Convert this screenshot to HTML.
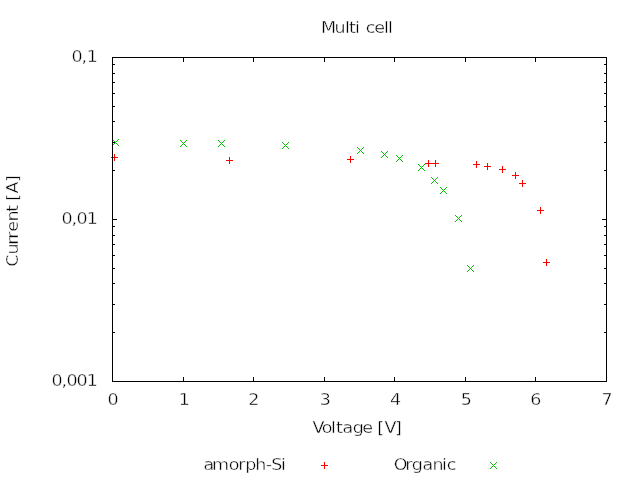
<!DOCTYPE html>
<html><head><meta charset="utf-8"><title>Multi cell</title>
<style>
html,body{margin:0;padding:0;background:#fff;}
svg{display:block;}
text{font-family:"DejaVu Sans","Liberation Sans",sans-serif;font-size:16.5px;fill:#000;stroke:#fff;stroke-width:0.4px;font-kerning:none;white-space:pre;}
</style></head><body>
<svg width="640" height="480" viewBox="0 0 640 480">
<rect width="640" height="480" fill="#fff"/>
<g shape-rendering="crispEdges">
<rect x="111" y="157" width="7" height="1" fill="#ff0000"/><rect x="114" y="154" width="1" height="7" fill="#ff0000"/>
<rect x="226" y="160" width="7" height="1" fill="#ff0000"/><rect x="229" y="157" width="1" height="7" fill="#ff0000"/>
<rect x="347" y="159" width="7" height="1" fill="#ff0000"/><rect x="350" y="156" width="1" height="7" fill="#ff0000"/>
<rect x="425" y="163" width="7" height="1" fill="#ff0000"/><rect x="428" y="160" width="1" height="7" fill="#ff0000"/>
<rect x="432" y="163" width="7" height="1" fill="#ff0000"/><rect x="435" y="160" width="1" height="7" fill="#ff0000"/>
<rect x="473" y="164" width="7" height="1" fill="#ff0000"/><rect x="476" y="161" width="1" height="7" fill="#ff0000"/>
<rect x="484" y="166" width="7" height="1" fill="#ff0000"/><rect x="487" y="163" width="1" height="7" fill="#ff0000"/>
<rect x="499" y="169" width="7" height="1" fill="#ff0000"/><rect x="502" y="166" width="1" height="7" fill="#ff0000"/>
<rect x="512" y="175" width="7" height="1" fill="#ff0000"/><rect x="515" y="172" width="1" height="7" fill="#ff0000"/>
<rect x="519" y="183" width="7" height="1" fill="#ff0000"/><rect x="522" y="180" width="1" height="7" fill="#ff0000"/>
<rect x="537" y="210" width="7" height="1" fill="#ff0000"/><rect x="540" y="207" width="1" height="7" fill="#ff0000"/>
<rect x="543" y="262" width="7" height="1" fill="#ff0000"/><rect x="546" y="259" width="1" height="7" fill="#ff0000"/>
<rect x="321" y="465" width="7" height="1" fill="#ff0000"/><rect x="324" y="462" width="1" height="7" fill="#ff0000"/>
<rect x="112" y="139" width="1" height="1" fill="#00c000"/>
<rect x="112" y="145" width="1" height="1" fill="#00c000"/>
<rect x="113" y="140" width="1" height="1" fill="#00c000"/>
<rect x="113" y="144" width="1" height="1" fill="#00c000"/>
<rect x="114" y="141" width="1" height="1" fill="#00c000"/>
<rect x="114" y="143" width="1" height="1" fill="#00c000"/>
<rect x="115" y="142" width="1" height="1" fill="#00c000"/>
<rect x="116" y="143" width="1" height="1" fill="#00c000"/>
<rect x="116" y="141" width="1" height="1" fill="#00c000"/>
<rect x="117" y="144" width="1" height="1" fill="#00c000"/>
<rect x="117" y="140" width="1" height="1" fill="#00c000"/>
<rect x="118" y="145" width="1" height="1" fill="#00c000"/>
<rect x="118" y="139" width="1" height="1" fill="#00c000"/>
<rect x="180" y="140" width="1" height="1" fill="#00c000"/>
<rect x="180" y="146" width="1" height="1" fill="#00c000"/>
<rect x="181" y="141" width="1" height="1" fill="#00c000"/>
<rect x="181" y="145" width="1" height="1" fill="#00c000"/>
<rect x="182" y="142" width="1" height="1" fill="#00c000"/>
<rect x="182" y="144" width="1" height="1" fill="#00c000"/>
<rect x="183" y="143" width="1" height="1" fill="#00c000"/>
<rect x="184" y="144" width="1" height="1" fill="#00c000"/>
<rect x="184" y="142" width="1" height="1" fill="#00c000"/>
<rect x="185" y="145" width="1" height="1" fill="#00c000"/>
<rect x="185" y="141" width="1" height="1" fill="#00c000"/>
<rect x="186" y="146" width="1" height="1" fill="#00c000"/>
<rect x="186" y="140" width="1" height="1" fill="#00c000"/>
<rect x="218" y="140" width="1" height="1" fill="#00c000"/>
<rect x="218" y="146" width="1" height="1" fill="#00c000"/>
<rect x="219" y="141" width="1" height="1" fill="#00c000"/>
<rect x="219" y="145" width="1" height="1" fill="#00c000"/>
<rect x="220" y="142" width="1" height="1" fill="#00c000"/>
<rect x="220" y="144" width="1" height="1" fill="#00c000"/>
<rect x="221" y="143" width="1" height="1" fill="#00c000"/>
<rect x="222" y="144" width="1" height="1" fill="#00c000"/>
<rect x="222" y="142" width="1" height="1" fill="#00c000"/>
<rect x="223" y="145" width="1" height="1" fill="#00c000"/>
<rect x="223" y="141" width="1" height="1" fill="#00c000"/>
<rect x="224" y="146" width="1" height="1" fill="#00c000"/>
<rect x="224" y="140" width="1" height="1" fill="#00c000"/>
<rect x="282" y="142" width="1" height="1" fill="#00c000"/>
<rect x="282" y="148" width="1" height="1" fill="#00c000"/>
<rect x="283" y="143" width="1" height="1" fill="#00c000"/>
<rect x="283" y="147" width="1" height="1" fill="#00c000"/>
<rect x="284" y="144" width="1" height="1" fill="#00c000"/>
<rect x="284" y="146" width="1" height="1" fill="#00c000"/>
<rect x="285" y="145" width="1" height="1" fill="#00c000"/>
<rect x="286" y="146" width="1" height="1" fill="#00c000"/>
<rect x="286" y="144" width="1" height="1" fill="#00c000"/>
<rect x="287" y="147" width="1" height="1" fill="#00c000"/>
<rect x="287" y="143" width="1" height="1" fill="#00c000"/>
<rect x="288" y="148" width="1" height="1" fill="#00c000"/>
<rect x="288" y="142" width="1" height="1" fill="#00c000"/>
<rect x="357" y="147" width="1" height="1" fill="#00c000"/>
<rect x="357" y="153" width="1" height="1" fill="#00c000"/>
<rect x="358" y="148" width="1" height="1" fill="#00c000"/>
<rect x="358" y="152" width="1" height="1" fill="#00c000"/>
<rect x="359" y="149" width="1" height="1" fill="#00c000"/>
<rect x="359" y="151" width="1" height="1" fill="#00c000"/>
<rect x="360" y="150" width="1" height="1" fill="#00c000"/>
<rect x="361" y="151" width="1" height="1" fill="#00c000"/>
<rect x="361" y="149" width="1" height="1" fill="#00c000"/>
<rect x="362" y="152" width="1" height="1" fill="#00c000"/>
<rect x="362" y="148" width="1" height="1" fill="#00c000"/>
<rect x="363" y="153" width="1" height="1" fill="#00c000"/>
<rect x="363" y="147" width="1" height="1" fill="#00c000"/>
<rect x="381" y="151" width="1" height="1" fill="#00c000"/>
<rect x="381" y="157" width="1" height="1" fill="#00c000"/>
<rect x="382" y="152" width="1" height="1" fill="#00c000"/>
<rect x="382" y="156" width="1" height="1" fill="#00c000"/>
<rect x="383" y="153" width="1" height="1" fill="#00c000"/>
<rect x="383" y="155" width="1" height="1" fill="#00c000"/>
<rect x="384" y="154" width="1" height="1" fill="#00c000"/>
<rect x="385" y="155" width="1" height="1" fill="#00c000"/>
<rect x="385" y="153" width="1" height="1" fill="#00c000"/>
<rect x="386" y="156" width="1" height="1" fill="#00c000"/>
<rect x="386" y="152" width="1" height="1" fill="#00c000"/>
<rect x="387" y="157" width="1" height="1" fill="#00c000"/>
<rect x="387" y="151" width="1" height="1" fill="#00c000"/>
<rect x="396" y="155" width="1" height="1" fill="#00c000"/>
<rect x="396" y="161" width="1" height="1" fill="#00c000"/>
<rect x="397" y="156" width="1" height="1" fill="#00c000"/>
<rect x="397" y="160" width="1" height="1" fill="#00c000"/>
<rect x="398" y="157" width="1" height="1" fill="#00c000"/>
<rect x="398" y="159" width="1" height="1" fill="#00c000"/>
<rect x="399" y="158" width="1" height="1" fill="#00c000"/>
<rect x="400" y="159" width="1" height="1" fill="#00c000"/>
<rect x="400" y="157" width="1" height="1" fill="#00c000"/>
<rect x="401" y="160" width="1" height="1" fill="#00c000"/>
<rect x="401" y="156" width="1" height="1" fill="#00c000"/>
<rect x="402" y="161" width="1" height="1" fill="#00c000"/>
<rect x="402" y="155" width="1" height="1" fill="#00c000"/>
<rect x="418" y="164" width="1" height="1" fill="#00c000"/>
<rect x="418" y="170" width="1" height="1" fill="#00c000"/>
<rect x="419" y="165" width="1" height="1" fill="#00c000"/>
<rect x="419" y="169" width="1" height="1" fill="#00c000"/>
<rect x="420" y="166" width="1" height="1" fill="#00c000"/>
<rect x="420" y="168" width="1" height="1" fill="#00c000"/>
<rect x="421" y="167" width="1" height="1" fill="#00c000"/>
<rect x="422" y="168" width="1" height="1" fill="#00c000"/>
<rect x="422" y="166" width="1" height="1" fill="#00c000"/>
<rect x="423" y="169" width="1" height="1" fill="#00c000"/>
<rect x="423" y="165" width="1" height="1" fill="#00c000"/>
<rect x="424" y="170" width="1" height="1" fill="#00c000"/>
<rect x="424" y="164" width="1" height="1" fill="#00c000"/>
<rect x="431" y="177" width="1" height="1" fill="#00c000"/>
<rect x="431" y="183" width="1" height="1" fill="#00c000"/>
<rect x="432" y="178" width="1" height="1" fill="#00c000"/>
<rect x="432" y="182" width="1" height="1" fill="#00c000"/>
<rect x="433" y="179" width="1" height="1" fill="#00c000"/>
<rect x="433" y="181" width="1" height="1" fill="#00c000"/>
<rect x="434" y="180" width="1" height="1" fill="#00c000"/>
<rect x="435" y="181" width="1" height="1" fill="#00c000"/>
<rect x="435" y="179" width="1" height="1" fill="#00c000"/>
<rect x="436" y="182" width="1" height="1" fill="#00c000"/>
<rect x="436" y="178" width="1" height="1" fill="#00c000"/>
<rect x="437" y="183" width="1" height="1" fill="#00c000"/>
<rect x="437" y="177" width="1" height="1" fill="#00c000"/>
<rect x="440" y="187" width="1" height="1" fill="#00c000"/>
<rect x="440" y="193" width="1" height="1" fill="#00c000"/>
<rect x="441" y="188" width="1" height="1" fill="#00c000"/>
<rect x="441" y="192" width="1" height="1" fill="#00c000"/>
<rect x="442" y="189" width="1" height="1" fill="#00c000"/>
<rect x="442" y="191" width="1" height="1" fill="#00c000"/>
<rect x="443" y="190" width="1" height="1" fill="#00c000"/>
<rect x="444" y="191" width="1" height="1" fill="#00c000"/>
<rect x="444" y="189" width="1" height="1" fill="#00c000"/>
<rect x="445" y="192" width="1" height="1" fill="#00c000"/>
<rect x="445" y="188" width="1" height="1" fill="#00c000"/>
<rect x="446" y="193" width="1" height="1" fill="#00c000"/>
<rect x="446" y="187" width="1" height="1" fill="#00c000"/>
<rect x="455" y="215" width="1" height="1" fill="#00c000"/>
<rect x="455" y="221" width="1" height="1" fill="#00c000"/>
<rect x="456" y="216" width="1" height="1" fill="#00c000"/>
<rect x="456" y="220" width="1" height="1" fill="#00c000"/>
<rect x="457" y="217" width="1" height="1" fill="#00c000"/>
<rect x="457" y="219" width="1" height="1" fill="#00c000"/>
<rect x="458" y="218" width="1" height="1" fill="#00c000"/>
<rect x="459" y="219" width="1" height="1" fill="#00c000"/>
<rect x="459" y="217" width="1" height="1" fill="#00c000"/>
<rect x="460" y="220" width="1" height="1" fill="#00c000"/>
<rect x="460" y="216" width="1" height="1" fill="#00c000"/>
<rect x="461" y="221" width="1" height="1" fill="#00c000"/>
<rect x="461" y="215" width="1" height="1" fill="#00c000"/>
<rect x="467" y="265" width="1" height="1" fill="#00c000"/>
<rect x="467" y="271" width="1" height="1" fill="#00c000"/>
<rect x="468" y="266" width="1" height="1" fill="#00c000"/>
<rect x="468" y="270" width="1" height="1" fill="#00c000"/>
<rect x="469" y="267" width="1" height="1" fill="#00c000"/>
<rect x="469" y="269" width="1" height="1" fill="#00c000"/>
<rect x="470" y="268" width="1" height="1" fill="#00c000"/>
<rect x="471" y="269" width="1" height="1" fill="#00c000"/>
<rect x="471" y="267" width="1" height="1" fill="#00c000"/>
<rect x="472" y="270" width="1" height="1" fill="#00c000"/>
<rect x="472" y="266" width="1" height="1" fill="#00c000"/>
<rect x="473" y="271" width="1" height="1" fill="#00c000"/>
<rect x="473" y="265" width="1" height="1" fill="#00c000"/>
<rect x="490" y="462" width="1" height="1" fill="#00c000"/>
<rect x="490" y="468" width="1" height="1" fill="#00c000"/>
<rect x="491" y="463" width="1" height="1" fill="#00c000"/>
<rect x="491" y="467" width="1" height="1" fill="#00c000"/>
<rect x="492" y="464" width="1" height="1" fill="#00c000"/>
<rect x="492" y="466" width="1" height="1" fill="#00c000"/>
<rect x="493" y="465" width="1" height="1" fill="#00c000"/>
<rect x="494" y="466" width="1" height="1" fill="#00c000"/>
<rect x="494" y="464" width="1" height="1" fill="#00c000"/>
<rect x="495" y="467" width="1" height="1" fill="#00c000"/>
<rect x="495" y="463" width="1" height="1" fill="#00c000"/>
<rect x="496" y="468" width="1" height="1" fill="#00c000"/>
<rect x="496" y="462" width="1" height="1" fill="#00c000"/>
<rect x="112" y="57" width="495" height="1" fill="#000"/>
<rect x="112" y="381" width="495" height="1" fill="#000"/>
<rect x="112" y="57" width="1" height="325" fill="#000"/>
<rect x="606" y="57" width="1" height="325" fill="#000"/>
<rect x="112" y="377" width="1" height="4" fill="#000"/>
<rect x="112" y="58" width="1" height="4" fill="#000"/>
<rect x="183" y="377" width="1" height="4" fill="#000"/>
<rect x="183" y="58" width="1" height="4" fill="#000"/>
<rect x="253" y="377" width="1" height="4" fill="#000"/>
<rect x="253" y="58" width="1" height="4" fill="#000"/>
<rect x="324" y="377" width="1" height="4" fill="#000"/>
<rect x="324" y="58" width="1" height="4" fill="#000"/>
<rect x="394" y="377" width="1" height="4" fill="#000"/>
<rect x="394" y="58" width="1" height="4" fill="#000"/>
<rect x="465" y="377" width="1" height="4" fill="#000"/>
<rect x="465" y="58" width="1" height="4" fill="#000"/>
<rect x="535" y="377" width="1" height="4" fill="#000"/>
<rect x="535" y="58" width="1" height="4" fill="#000"/>
<rect x="606" y="377" width="1" height="4" fill="#000"/>
<rect x="606" y="58" width="1" height="4" fill="#000"/>
<rect x="113" y="381" width="4" height="1" fill="#000"/>
<rect x="602" y="381" width="4" height="1" fill="#000"/>
<rect x="113" y="332" width="2" height="1" fill="#000"/>
<rect x="604" y="332" width="2" height="1" fill="#000"/>
<rect x="113" y="304" width="2" height="1" fill="#000"/>
<rect x="604" y="304" width="2" height="1" fill="#000"/>
<rect x="113" y="283" width="2" height="1" fill="#000"/>
<rect x="604" y="283" width="2" height="1" fill="#000"/>
<rect x="113" y="268" width="2" height="1" fill="#000"/>
<rect x="604" y="268" width="2" height="1" fill="#000"/>
<rect x="113" y="255" width="2" height="1" fill="#000"/>
<rect x="604" y="255" width="2" height="1" fill="#000"/>
<rect x="113" y="244" width="2" height="1" fill="#000"/>
<rect x="604" y="244" width="2" height="1" fill="#000"/>
<rect x="113" y="235" width="2" height="1" fill="#000"/>
<rect x="604" y="235" width="2" height="1" fill="#000"/>
<rect x="113" y="226" width="2" height="1" fill="#000"/>
<rect x="604" y="226" width="2" height="1" fill="#000"/>
<rect x="113" y="219" width="4" height="1" fill="#000"/>
<rect x="602" y="219" width="4" height="1" fill="#000"/>
<rect x="113" y="170" width="2" height="1" fill="#000"/>
<rect x="604" y="170" width="2" height="1" fill="#000"/>
<rect x="113" y="142" width="2" height="1" fill="#000"/>
<rect x="604" y="142" width="2" height="1" fill="#000"/>
<rect x="113" y="121" width="2" height="1" fill="#000"/>
<rect x="604" y="121" width="2" height="1" fill="#000"/>
<rect x="113" y="106" width="2" height="1" fill="#000"/>
<rect x="604" y="106" width="2" height="1" fill="#000"/>
<rect x="113" y="93" width="2" height="1" fill="#000"/>
<rect x="604" y="93" width="2" height="1" fill="#000"/>
<rect x="113" y="82" width="2" height="1" fill="#000"/>
<rect x="604" y="82" width="2" height="1" fill="#000"/>
<rect x="113" y="73" width="2" height="1" fill="#000"/>
<rect x="604" y="73" width="2" height="1" fill="#000"/>
<rect x="113" y="64" width="2" height="1" fill="#000"/>
<rect x="604" y="64" width="2" height="1" fill="#000"/>
</g>
<text transform="scale(1.06,1)" x="302.771 315.507 325.413 329.186 334.847 340.566 344.988 353.007 362.205 365.979" y="33">Multi cell</text>
<text transform="scale(1.06,1)" x="191.922 199.941 215.743 224.705 231.309 240.743 250.649 255.837 265.035" y="470">amorph-Si</text>
<text transform="scale(1.06,1)" x="371.403 382.252 388.384 398.526 407.96 416.922 421.403" y="470">Organic</text>
<text transform="scale(1.06,1)" x="294.752 303.479 312.205 316.922 323.054 332.724 341.686 351.887 355.837 362.677 372.583" y="433">Voltage [V]</text>
<text transform="scale(1.06,1)" x="67.394 76.828 81.781" y="62">0,1</text>
<text transform="scale(1.06,1)" x="57.96 67.394 72.111 81.781" y="224">0,01</text>
<text transform="scale(1.06,1)" x="48.526 57.96 62.677 72.111 81.781" y="386">0,001</text>
<text transform="scale(1.06,1)" x="101.356" y="405">0</text>
<text transform="scale(1.06,1)" x="168.573" y="405">1</text>
<text transform="scale(1.06,1)" x="234.139" y="405">2</text>
<text transform="scale(1.06,1)" x="301.592" y="405">3</text>
<text transform="scale(1.06,1)" x="367.866" y="405">4</text>
<text transform="scale(1.06,1)" x="434.611" y="405">5</text>
<text transform="scale(1.06,1)" x="500.177" y="405">6</text>
<text transform="scale(1.06,1)" x="567.394" y="405">7</text>
<text transform="translate(17.5,266) rotate(-90) scale(1.06,1)" x="-0.825 10.79 19.988 25.649 32.252 41.922 51.12 57.547 61.498 68.337 79.186" y="0">Current [A]</text>
</svg>
</body></html>
